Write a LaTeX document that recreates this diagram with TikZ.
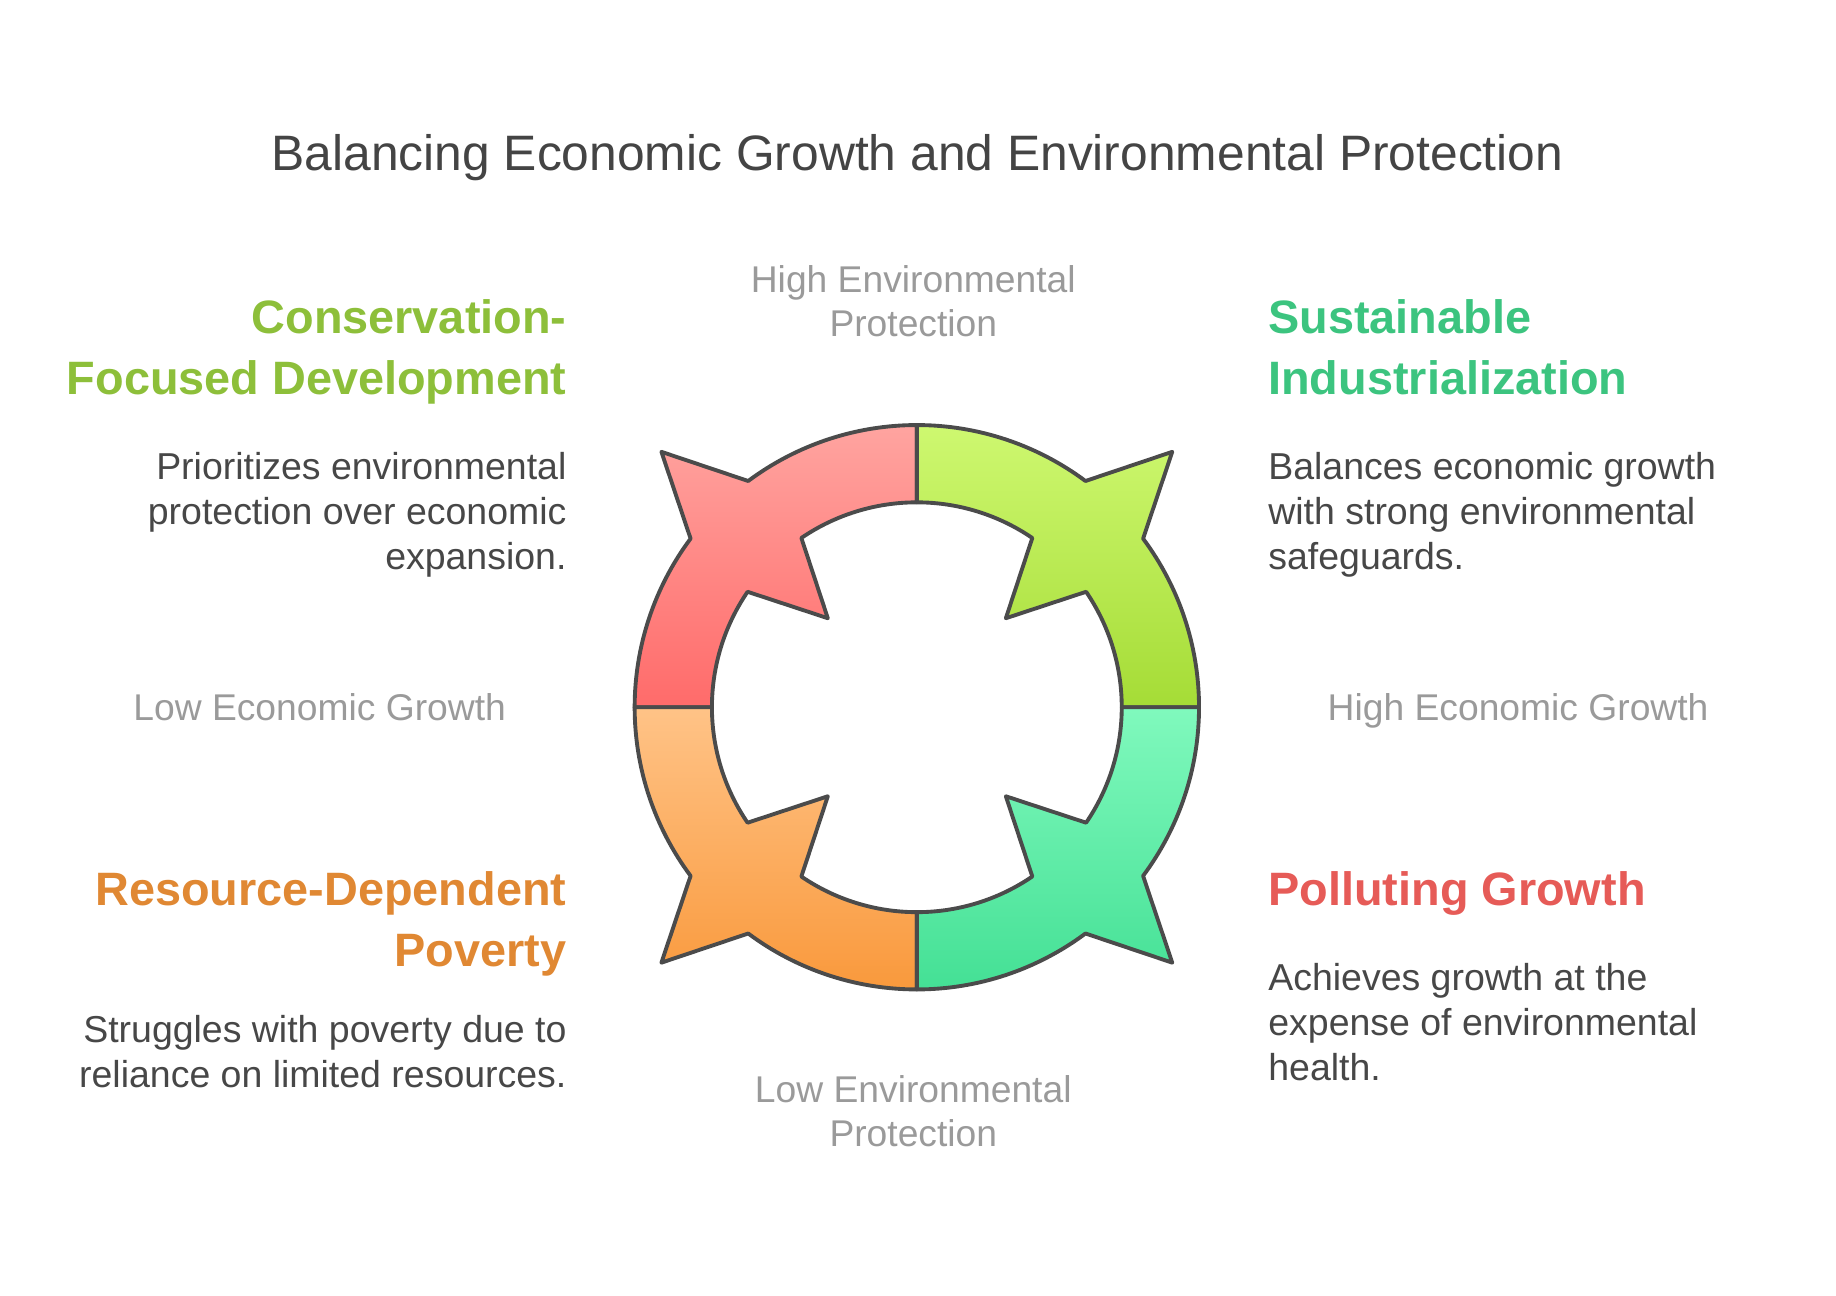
\documentclass[tikz,border=0pt]{standalone}
\usepackage{fontspec}
\setmainfont{Liberation Sans}
\definecolor{titlec}{HTML}{444444}
\definecolor{axisc}{HTML}{9A9A9A}
\definecolor{descc}{HTML}{474747}
\definecolor{consc}{HTML}{8DBF3A}
\definecolor{sustc}{HTML}{3CC47F}
\definecolor{resc}{HTML}{E08833}
\definecolor{pollc}{HTML}{E65B57}
\definecolor{ringc}{HTML}{4B4B4B}
\definecolor{redtop}{HTML}{FFA4A0}
\definecolor{redbot}{HTML}{FF6B6A}
\definecolor{grntop}{HTML}{CEF870}
\definecolor{grnbot}{HTML}{A5DC36}
\definecolor{orgtop}{HTML}{FFC387}
\definecolor{orgbot}{HTML}{F9993C}
\definecolor{teatop}{HTML}{80F9BD}
\definecolor{teabot}{HTML}{44E095}
\newcommand{\ringseg}[3]{%
  \pgfmathsetmacro{\sa}{#1}%
  \pgfmathsetmacro{\ea}{#1+90}%
  \pgfmathsetmacro{\ma}{#1+45}%
  \path[segstyle, top color=#2, bottom color=#3, shift={(783,-604)}]
    (\ea:241) arc[start angle=\ea, end angle=\ma+8.3, radius=241]
    -- (\ma:308.5)
    -- (\ma-8.3:241) arc[start angle=\ma-8.3, end angle=\sa, radius=241]
    -- (\sa:175) arc[start angle=\sa, end angle=\ma-10.7, radius=175]
    -- (\ma:107.5)
    -- (\ma+10.7:175) arc[start angle=\ma+10.7, end angle=\ea, radius=175]
    -- cycle;%
}
\begin{document}
\begin{tikzpicture}[x=1pt,y=1pt,
  segstyle/.style={draw=ringc, line width=3.3pt, line join=round},
  titlestyle/.style={inner sep=0pt, text=titlec, font=\fontsize{42.5}{51}\selectfont},
  axisstyle/.style={inner sep=0pt, text=axisc, align=center, font=\fontsize{31.8}{38}\selectfont},
  headstyle/.style={inner sep=0pt, font=\fontsize{40}{52}\selectfont\bfseries},
  descstyle/.style={inner sep=0pt, text=descc, font=\fontsize{32}{38.3}\selectfont}]
\useasboundingbox (0,0) rectangle (1568,-1106);

\ringseg{90}{redtop}{redbot}
\ringseg{0}{grntop}{grnbot}
\ringseg{180}{orgtop}{orgbot}
\ringseg{270}{teatop}{teabot}

\node[titlestyle, anchor=base] (title) at (783.5,-146) {Balancing Economic Growth and Environmental Protection};

\node[axisstyle, anchor=base] (highenv) at (780,-287.5) {High Environmental\\Protection};
\node[axisstyle, anchor=base] (lowenv) at (780,-979.5) {Low Environmental\\Protection};
\node[axisstyle, anchor=base] (lowecon) at (273,-615.5) {Low Economic Growth};
\node[axisstyle, anchor=base] (highecon) at (1296.5,-615.5) {High Economic Growth};

\node[headstyle, text=consc, align=right, anchor=base east] (conshead) at (484,-337) {Conservation-\\Focused Development};
\node[descstyle, align=right, anchor=base east] (consdesc) at (484,-486.5) {Prioritizes environmental\\protection over economic\\expansion.};

\node[headstyle, text=sustc, align=left, anchor=base west] (susthead) at (1083,-337) {Sustainable\\Industrialization};
\node[descstyle, align=left, anchor=base west] (sustdesc) at (1083,-486.5) {Balances economic growth\\with strong environmental\\safeguards.};

\node[headstyle, text=resc, align=right, anchor=base east] (reshead) at (484,-825) {Resource-Dependent\\Poverty};
\node[descstyle, align=right, anchor=base east] (resdesc) at (484,-928.5) {Struggles with poverty due to\\reliance on limited resources.};

\node[headstyle, text=pollc, align=left, anchor=base west] (pollhead) at (1083,-773) {Polluting Growth};
\node[descstyle, align=left, anchor=base west] (polldesc) at (1083,-922.5) {Achieves growth at the\\expense of environmental\\health.};
\end{tikzpicture}
\end{document}
